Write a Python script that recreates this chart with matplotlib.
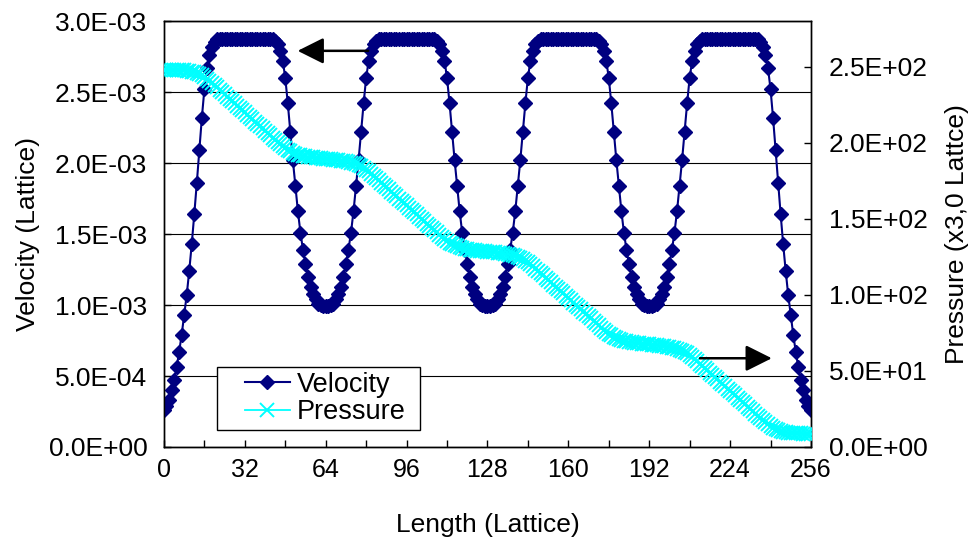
import numpy as np
import matplotlib
matplotlib.use("Agg")
import matplotlib.pyplot as plt
from matplotlib.patches import Rectangle
from matplotlib.ticker import MultipleLocator, FuncFormatter

plt.rcParams["font.family"] = ["Liberation Sans", "DejaVu Sans"]

# lattice positions 0..256
length = np.arange(0, 257)

# velocity, in units of 1E-03 (lattice)
velocity_e3 = [
    0.26, 0.29, 0.33, 0.40, 0.47, 0.56, 0.67, 0.79, 0.93, 1.07, 1.24, 1.43, 1.64, 1.86, 2.09, 2.32,
    2.52, 2.67, 2.76, 2.82, 2.85, 2.87, 2.87, 2.87, 2.87, 2.87, 2.87, 2.87, 2.87, 2.87, 2.87, 2.87,
    2.87, 2.87, 2.87, 2.87, 2.87, 2.87, 2.87, 2.87, 2.87, 2.87, 2.87, 2.87, 2.86, 2.84, 2.79, 2.72,
    2.60, 2.42, 2.22, 2.02, 1.84, 1.66, 1.51, 1.39, 1.29, 1.20, 1.13, 1.08, 1.04, 1.01, 1.00, 0.99,
    0.99, 0.99, 1.00, 1.01, 1.04, 1.08, 1.13, 1.20, 1.29, 1.39, 1.51, 1.66, 1.84, 2.02, 2.22, 2.42,
    2.60, 2.72, 2.79, 2.84, 2.86, 2.87, 2.87, 2.87, 2.87, 2.87, 2.87, 2.87, 2.87, 2.87, 2.87, 2.87,
    2.87, 2.87, 2.87, 2.87, 2.87, 2.87, 2.87, 2.87, 2.87, 2.87, 2.87, 2.87, 2.86, 2.84, 2.79, 2.72,
    2.60, 2.42, 2.22, 2.02, 1.84, 1.66, 1.51, 1.39, 1.29, 1.20, 1.13, 1.08, 1.04, 1.01, 1.00, 0.99,
    0.99, 0.99, 1.00, 1.01, 1.04, 1.08, 1.13, 1.20, 1.29, 1.39, 1.51, 1.66, 1.84, 2.02, 2.22, 2.42,
    2.60, 2.72, 2.79, 2.84, 2.86, 2.87, 2.87, 2.87, 2.87, 2.87, 2.87, 2.87, 2.87, 2.87, 2.87, 2.87,
    2.87, 2.87, 2.87, 2.87, 2.87, 2.87, 2.87, 2.87, 2.87, 2.87, 2.87, 2.87, 2.86, 2.84, 2.79, 2.72,
    2.60, 2.42, 2.22, 2.02, 1.84, 1.66, 1.51, 1.39, 1.29, 1.20, 1.13, 1.08, 1.04, 1.01, 1.00, 0.99,
    0.99, 0.99, 1.00, 1.01, 1.04, 1.08, 1.13, 1.20, 1.29, 1.39, 1.51, 1.66, 1.84, 2.02, 2.22, 2.42,
    2.60, 2.72, 2.79, 2.84, 2.86, 2.87, 2.87, 2.87, 2.87, 2.87, 2.87, 2.87, 2.87, 2.87, 2.87, 2.87,
    2.87, 2.87, 2.87, 2.87, 2.87, 2.87, 2.87, 2.87, 2.87, 2.87, 2.87, 2.87, 2.85, 2.82, 2.76, 2.67,
    2.52, 2.32, 2.09, 1.86, 1.64, 1.43, 1.24, 1.07, 0.93, 0.79, 0.67, 0.56, 0.47, 0.40, 0.33, 0.29,
    0.26,
]

# pressure (x3,0 lattice)
pressure = [
    248.0, 248.0, 248.0, 247.9, 247.9, 247.9, 247.8, 247.7, 247.6, 247.4, 247.1, 246.8, 246.4, 245.8, 245.1, 244.2,
    243.2, 241.9, 240.6, 239.2, 237.8, 236.3, 234.8, 233.3, 231.8, 230.3, 228.8, 227.3, 225.8, 224.3, 222.8, 221.3,
    219.9, 218.4, 216.9, 215.4, 213.9, 212.4, 210.9, 209.4, 207.9, 206.4, 204.9, 203.4, 202.0, 200.5, 199.0, 197.7,
    196.4, 195.2, 194.3, 193.5, 192.8, 192.2, 191.8, 191.4, 191.1, 190.8, 190.5, 190.3, 190.1, 189.9, 189.7, 189.6,
    189.4, 189.2, 189.0, 188.8, 188.6, 188.4, 188.2, 188.0, 187.7, 187.4, 187.0, 186.5, 186.0, 185.3, 184.5, 183.5,
    182.3, 181.1, 179.7, 178.2, 176.8, 175.3, 173.8, 172.3, 170.8, 169.3, 167.8, 166.3, 164.8, 163.3, 161.9, 160.4,
    158.9, 157.4, 155.9, 154.4, 152.9, 151.4, 149.9, 148.4, 146.9, 145.4, 143.9, 142.5, 141.0, 139.5, 138.1, 136.7,
    135.4, 134.3, 133.3, 132.5, 131.8, 131.2, 130.8, 130.4, 130.1, 129.8, 129.5, 129.3, 129.1, 128.9, 128.8, 128.6,
    128.4, 128.2, 128.0, 127.9, 127.7, 127.5, 127.2, 127.0, 126.7, 126.4, 126.0, 125.5, 125.0, 124.3, 123.5, 122.5,
    121.4, 120.1, 118.7, 117.3, 115.8, 114.3, 112.8, 111.3, 109.8, 108.3, 106.8, 105.4, 103.9, 102.4, 100.9, 99.4,
    97.9, 96.4, 94.9, 93.4, 91.9, 90.4, 88.9, 87.4, 85.9, 84.5, 83.0, 81.5, 80.0, 78.5, 77.1, 75.7,
    74.4, 73.3, 72.3, 71.5, 70.8, 70.3, 69.8, 69.4, 69.1, 68.8, 68.6, 68.3, 68.1, 68.0, 67.8, 67.6,
    67.4, 67.2, 67.0, 66.9, 66.7, 66.5, 66.3, 66.0, 65.7, 65.4, 65.0, 64.6, 64.0, 63.3, 62.5, 61.5,
    60.4, 59.1, 57.7, 56.3, 54.8, 53.3, 51.8, 50.3, 48.9, 47.4, 45.9, 44.4, 42.9, 41.4, 39.9, 38.4,
    36.9, 35.4, 33.9, 32.4, 30.9, 29.4, 28.0, 26.5, 25.0, 23.5, 22.0, 20.5, 19.0, 17.6, 16.2, 14.8,
    13.6, 12.5, 11.6, 10.9, 10.4, 10.0, 9.6, 9.4, 9.2, 9.1, 9.0, 8.9, 8.9, 8.8, 8.8, 8.8,
    8.8,
]

velocity = np.array(velocity_e3) * 1e-3

# annotation arrows: (tail, head) in velocity-axis data coords
arrow_to_velocity = ((80.8, 2.79e-3), (52.9, 2.79e-3))
arrow_to_pressure = ((212.1, 0.625e-3), (240.5, 0.625e-3))

sci = FuncFormatter(lambda v, pos: f"{v:.1E}")
fs_xtick = 18
fs_ytick = 19
fs_label = 19
fs_legend = 19.5

fig = plt.figure(figsize=(9.69, 5.43), dpi=100)
ax = fig.add_axes([0.1692, 0.1768, 0.6677, 0.7845])
ax2 = ax.twinx()

h1, = ax.plot(length, velocity, color="#000080", lw=1.5, marker="D", ms=7,
              label="Velocity", zorder=3)
h2, = ax2.plot(length, pressure, color="#00FFFF", lw=1.3, marker="x", ms=10, mew=1.4,
               label="Pressure", zorder=3)

ax.set_xlim(0, 256)
ax.set_ylim(0, 3.0e-3)
ax2.set_ylim(0, 280)

ax.xaxis.set_major_locator(MultipleLocator(32))
ax.xaxis.set_minor_locator(MultipleLocator(16))
ax.yaxis.set_major_locator(MultipleLocator(0.5e-3))
ax2.yaxis.set_major_locator(MultipleLocator(50))
ax.yaxis.set_major_formatter(sci)
ax2.yaxis.set_major_formatter(sci)

ax.yaxis.grid(True, color="black", lw=0.8)
ax.set_axisbelow(True)

ax.tick_params(axis="x", which="both", direction="in", length=5, width=1, labelsize=fs_xtick, pad=8)
ax.tick_params(axis="y", direction="in", length=5, width=1, labelsize=fs_ytick, pad=12)
ax2.tick_params(axis="y", direction="in", length=5, width=1, labelsize=fs_ytick, pad=13)

for a in (ax, ax2):
    for s in a.spines.values():
        s.set_color("black")
        s.set_linewidth(1.0)

ax.set_xlabel("Length (Lattice)", fontsize=fs_label, labelpad=22)
ax.set_ylabel("Velocity (Lattice)", fontsize=fs_label, labelpad=6)
ax2.set_ylabel("Pressure (x3,0 Lattce)", fontsize=fs_label, labelpad=12)

for tail, head in (arrow_to_velocity, arrow_to_pressure):
    ax2.annotate("", xy=head, xytext=tail, xycoords=ax.transData, textcoords=ax.transData,
                 arrowprops=dict(arrowstyle="-|>,head_length=0.8,head_width=0.4",
                                 color="black", lw=1.8, mutation_scale=20,
                                 shrinkA=0, shrinkB=0), zorder=5)

# legend box drawn separately so the padding matches the Excel-style frame
legend_box = Rectangle((0.082, 0.040), 0.314, 0.148, transform=ax2.transAxes,
                       facecolor="white", edgecolor="black", lw=1.0, zorder=6)
ax2.add_patch(legend_box)
leg = ax2.legend([h1, h2], ["Velocity", "Pressure"], loc="center left",
                 bbox_to_anchor=(0.125, 0.114), borderaxespad=0, fontsize=fs_legend,
                 frameon=False, handlelength=1.67, handletextpad=0.26,
                 borderpad=0, labelspacing=0.05)
leg.set_zorder(7)

fig.savefig("out.png", dpi=100)
